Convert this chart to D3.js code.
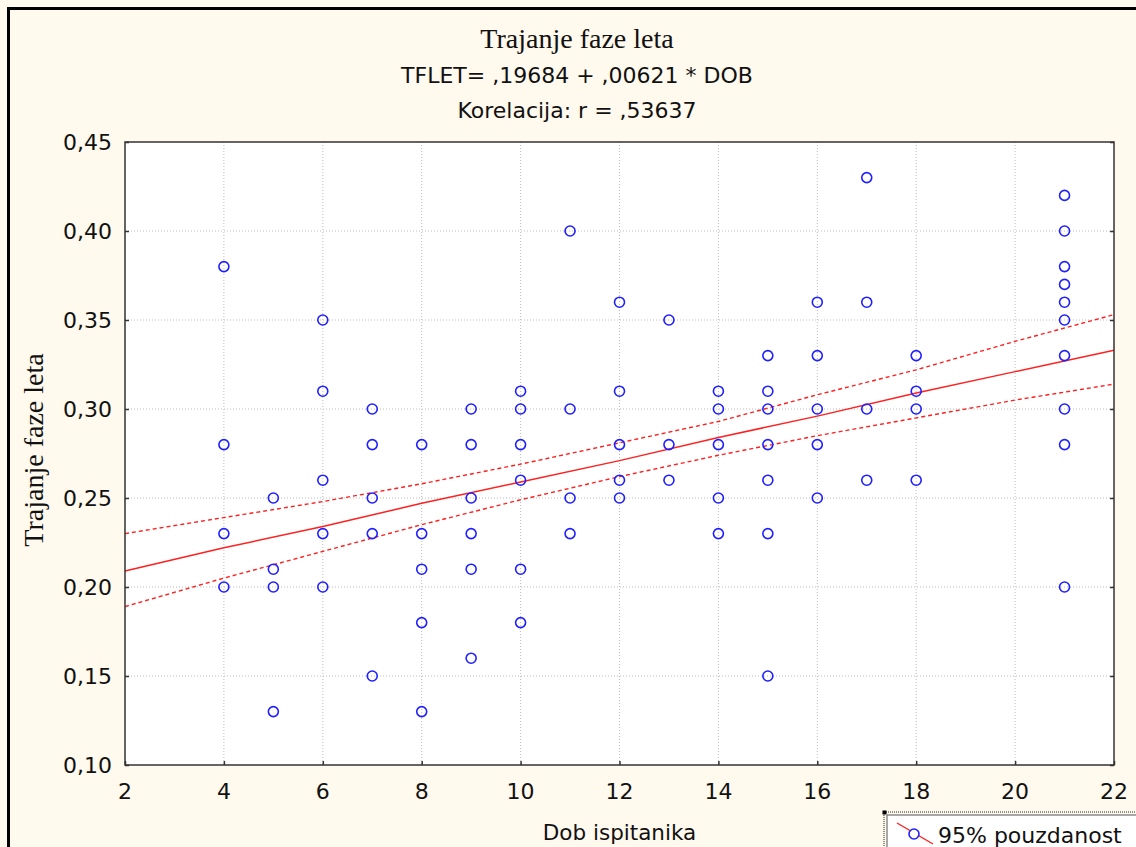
<!DOCTYPE html>
<html>
<head>
<meta charset="UTF-8">
<style>
  body { margin: 0; background: #fff9ee; }
  svg { display: block; }
  .sans { font-family: "DejaVu Sans", sans-serif; fill: #111; }
  .serif { font-family: "Liberation Serif", serif; fill: #111; }
</style>
</head>
<body>
<svg></svg>
<script src="https://d3js.org/d3.v7.min.js"></script>
<script>
let width = 1136, height = 847;

// age of subjects (DOB) and flight phase duration (TFLET), one entry per subject
var dob = [
  4,4,4,4, 5,5,5,5, 6,6,6,6,6, 7,7,7,7,7, 8,8,8,8,8,
  9,9,9,9,9,9, 10,10,10,10,10,10, 11,11,11,11, 12,12,12,12,12,
  13,13,13, 14,14,14,14,14, 15,15,15,15,15,15,15, 16,16,16,16,16,
  17,17,17,17, 18,18,18,18, 21,21,21,21,21,21,21,21,21,21
];
var tflet = [
  0.38,0.28,0.23,0.20, 0.25,0.21,0.20,0.13, 0.35,0.31,0.26,0.23,0.20,
  0.30,0.28,0.25,0.23,0.15, 0.28,0.23,0.21,0.18,0.13,
  0.30,0.28,0.25,0.23,0.21,0.16, 0.31,0.30,0.28,0.26,0.21,0.18,
  0.40,0.30,0.25,0.23, 0.36,0.31,0.28,0.26,0.25,
  0.35,0.28,0.26, 0.31,0.30,0.28,0.25,0.23,
  0.33,0.31,0.30,0.28,0.26,0.23,0.15, 0.36,0.33,0.30,0.28,0.25,
  0.43,0.36,0.30,0.26, 0.33,0.31,0.30,0.26,
  0.42,0.40,0.38,0.37,0.36,0.35,0.33,0.30,0.28,0.20
];

// regression line and 95% band, read at these x positions
var bandX  = [2, 4, 6, 8, 10, 12, 14, 16, 18, 20, 22];
var fitY   = [0.209,0.222,0.234,0.247,0.259,0.271,0.284,0.296,0.309,0.321,0.333];
var upperY = [0.230,0.239,0.248,0.258,0.269,0.281,0.293,0.308,0.322,0.338,0.353];
var lowerY = [0.189,0.205,0.220,0.235,0.249,0.262,0.274,0.285,0.295,0.305,0.314];

var xTicks = [2,4,6,8,10,12,14,16,18,20,22];
var yTicks = [0.10,0.15,0.20,0.25,0.30,0.35,0.40,0.45];

var title = "Trajanje faze leta";
var subtitle1 = "TFLET= ,19684 + ,00621 * DOB";
var subtitle2 = "Korelacija: r = ,53637";
var xTitle = "Dob ispitanika";
var yTitle = "Trajanje faze leta";
var legendLabel = "95% pouzdanost";

let svg = d3.select("svg")
    .attr("width", width)
    .attr("height", height);

// outer frame (only top and left edges fall inside the picture)
svg.append("path")
    .attr("d", "M8.5," + height + "V8.5H" + width)
    .attr("fill", "none")
    .attr("stroke", "#000")
    .attr("stroke-width", 3);

let pLeft = 125, pRight = 1114, pTop = 142, pBottom = 765;

let x = d3.scaleLinear().domain([2, 22]).range([pLeft, pRight]);
let y = d3.scaleLinear().domain([0.10, 0.45]).range([pBottom, pTop]);

svg.append("rect")
    .attr("x", pLeft).attr("y", pTop)
    .attr("width", pRight - pLeft).attr("height", pBottom - pTop)
    .attr("fill", "#fff");

// dotted grid
let grid = svg.append("g");
grid.selectAll(".gx")
    .data(xTicks.slice(1, -1))
    .enter().append("line")
    .attr("x1", d => x(d)).attr("x2", d => x(d))
    .attr("y1", pTop).attr("y2", pBottom)
    .attr("stroke", "#bdbdbd").attr("stroke-dasharray", "1,2");
grid.selectAll(".gy")
    .data(yTicks.slice(1, -1))
    .enter().append("line")
    .attr("x1", pLeft).attr("x2", pRight)
    .attr("y1", d => y(d)).attr("y2", d => y(d))
    .attr("stroke", "#bdbdbd").attr("stroke-dasharray", "1,2");

let fmt = d => d3.format(".2f")(d).replace(".", ",");

// axes with inward ticks
svg.append("g")
    .attr("transform", "translate(0," + pBottom + ")")
    .call(d3.axisTop(x).tickValues(xTicks).tickSize(4).tickFormat(""))
    .call(g => g.select(".domain").remove());
svg.append("g")
    .attr("transform", "translate(" + pLeft + ",0)")
    .call(d3.axisRight(y).tickValues(yTicks).tickSize(4).tickFormat(""))
    .call(g => g.select(".domain").remove());
svg.append("g")
    .attr("transform", "translate(" + pRight + ",0)")
    .call(d3.axisLeft(y).tickValues(yTicks).tickSize(4).tickFormat(""))
    .call(g => g.select(".domain").remove());
svg.selectAll(".tick line").attr("stroke", "#333").attr("stroke-width", 1.5);

svg.selectAll(".xlab")
    .data(xTicks)
    .enter().append("text")
    .attr("class", "sans")
    .attr("x", d => x(d)).attr("y", pBottom + 34)
    .attr("text-anchor", "middle")
    .style("font-size", "22px")
    .text(d => d);

svg.selectAll(".ylab")
    .data(yTicks)
    .enter().append("text")
    .attr("class", "sans")
    .attr("x", pLeft - 13).attr("y", d => y(d) + 8)
    .attr("text-anchor", "end")
    .style("font-size", "22px")
    .text(fmt);

// band and fit lines
let line = d3.line().x(d => x(d[0])).y(d => y(d[1]));
svg.append("path")
    .attr("d", line(d3.zip(bandX, upperY)))
    .attr("fill", "none").attr("stroke", "#ff2020")
    .attr("stroke-width", 1.4).attr("stroke-dasharray", "4,3");
svg.append("path")
    .attr("d", line(d3.zip(bandX, lowerY)))
    .attr("fill", "none").attr("stroke", "#ff2020")
    .attr("stroke-width", 1.4).attr("stroke-dasharray", "4,3");
svg.append("path")
    .attr("d", line(d3.zip(bandX, fitY)))
    .attr("fill", "none").attr("stroke", "#ff2020")
    .attr("stroke-width", 1.5);

// points
svg.append("g")
    .selectAll("circle")
    .data(d3.zip(dob, tflet))
    .enter().append("circle")
    .attr("cx", d => x(d[0]))
    .attr("cy", d => y(d[1]))
    .attr("r", 5)
    .attr("fill", "none")
    .attr("stroke", "#2020ff")
    .attr("stroke-width", 1.6);

// plot frame
svg.append("rect")
    .attr("x", pLeft).attr("y", pTop)
    .attr("width", pRight - pLeft).attr("height", pBottom - pTop)
    .attr("fill", "none")
    .attr("stroke", "#333").attr("stroke-width", 1.5);

// titles
svg.append("text").attr("class", "serif")
    .attr("x", 577).attr("y", 48)
    .attr("text-anchor", "middle")
    .style("font-size", "28px")
    .text(title);
svg.append("text").attr("class", "sans")
    .attr("x", 577).attr("y", 83)
    .attr("text-anchor", "middle")
    .style("font-size", "22px")
    .text(subtitle1);
svg.append("text").attr("class", "sans")
    .attr("x", 577).attr("y", 118)
    .attr("text-anchor", "middle")
    .style("font-size", "22px")
    .text(subtitle2);

svg.append("text").attr("class", "sans")
    .attr("x", (pLeft + pRight) / 2).attr("y", 840)
    .attr("text-anchor", "middle")
    .style("font-size", "21.5px")
    .text(xTitle);

svg.append("text").attr("class", "serif")
    .attr("transform", "translate(43,450) rotate(-90)")
    .attr("text-anchor", "middle")
    .style("font-size", "28px")
    .text(yTitle);

// legend box (cut by the picture edge)
let lg = svg.append("g").attr("transform", "translate(884,812)");
lg.append("rect")
    .attr("x", 0).attr("y", 0).attr("width", 270).attr("height", 60)
    .attr("fill", "#fff9ee")
    .attr("stroke", "#222").attr("stroke-dasharray", "1,1");
lg.append("rect")
    .attr("x", 3).attr("y", 3).attr("width", 262).attr("height", 54)
    .attr("fill", "#fff")
    .attr("stroke", "#555");
lg.append("rect")
    .attr("x", -1.5).attr("y", -1.5).attr("width", 4).attr("height", 4)
    .attr("fill", "#000");
lg.append("line")
    .attr("x1", 13).attr("y1", 11).attr("x2", 49).attr("y2", 32)
    .attr("stroke", "#ff2020").attr("stroke-width", 1.4);
lg.append("circle")
    .attr("cx", 30).attr("cy", 22).attr("r", 5)
    .attr("fill", "#fff").attr("stroke", "#2020ff").attr("stroke-width", 1.6);
lg.append("text").attr("class", "sans")
    .attr("x", 54).attr("y", 31)
    .style("font-size", "22px")
    .text(legendLabel);
</script>
</body>
</html>
